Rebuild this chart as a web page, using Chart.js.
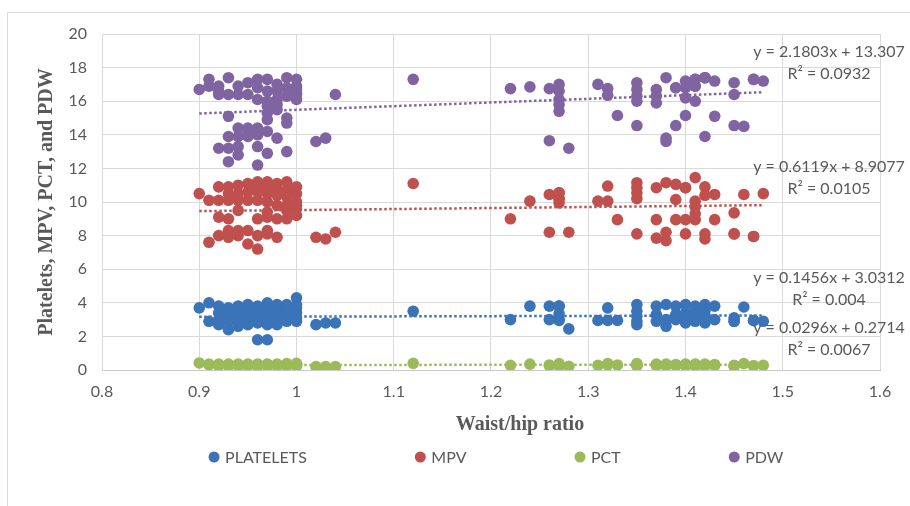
<!DOCTYPE html>
<html lang="en">
<head>
  <meta charset="UTF-8">
  <title>Platelets, MPV, PCT and PDW vs waist/hip ratio</title>
  <script src="https://cdn.jsdelivr.net/npm/chart.js"></script>
  <style>
    body { margin: 0; background: #fff; }
    canvas { display: block; }
  </style>
</head>
<body>
  <canvas id="chart" width="910" height="506"></canvas>

  <script>
    // one entry per subject, grouped by waist/hip ratio
    const waistHip = [
      0.90,
      0.91, 0.91,
      0.92, 0.92, 0.92, 0.92,
      0.93, 0.93, 0.93, 0.93, 0.93, 0.93,
      0.94, 0.94, 0.94, 0.94, 0.94, 0.94,
      0.95, 0.95, 0.95, 0.95, 0.95,
      0.96, 0.96, 0.96, 0.96, 0.96, 0.96, 0.96,
      0.97, 0.97, 0.97, 0.97, 0.97, 0.97, 0.97, 0.97,
      0.98, 0.98, 0.98, 0.98, 0.98, 0.98,
      0.99, 0.99, 0.99, 0.99, 0.99, 0.99,
      1.00, 1.00, 1.00, 1.00, 1.00, 1.00,
      1.02, 1.03, 1.04, 1.12, 1.22, 1.24,
      1.26, 1.26,
      1.27, 1.27, 1.27, 1.27, 1.27,
      1.28, 1.31,
      1.32, 1.32,
      1.33,
      1.35, 1.35, 1.35, 1.35, 1.35,
      1.37, 1.37, 1.37,
      1.38, 1.38, 1.38,
      1.39, 1.39, 1.39,
      1.40, 1.40, 1.40, 1.40,
      1.41, 1.41, 1.41, 1.41, 1.41,
      1.42, 1.42, 1.42, 1.42,
      1.43, 1.43,
      1.45, 1.45, 1.45,
      1.46,
      1.47, 1.47,
      1.48
    ];

    const platelets = [
      3.7,
      4.0, 2.9,
      3.8, 2.7, 3.4, 3.0,
      3.7, 2.4, 3.3, 2.9, 3.6, 3.1,
      3.8, 2.6, 3.2, 3.5, 2.9, 3.0,
      3.9, 2.7, 3.3, 3.1, 3.6,
      3.8, 1.8, 3.2, 2.8, 3.5, 3.0, 3.7,
      4.0, 1.8, 3.3, 2.7, 3.6, 3.0, 3.8, 3.2,
      3.9, 2.7, 3.4, 3.1, 3.6, 2.9,
      3.9, 3.0, 3.5, 3.2, 3.7, 2.9,
      4.3, 3.7, 3.1, 3.4, 3.9, 2.9,
      2.7, 2.8, 2.8, 3.5, 3.0, 3.8,
      3.8, 3.0,
      3.8, 3.35, 2.95, 3.8, 3.0,
      2.45, 2.95,
      3.7, 2.95,
      2.95,
      3.9, 3.5, 3.2, 2.9, 2.7,
      3.8, 3.3, 2.9,
      3.9, 3.0, 2.6,
      3.8, 3.3, 3.0,
      3.9, 3.4, 3.0, 2.8,
      3.8, 3.3, 2.9, 3.6, 3.1,
      3.9, 3.2, 2.8, 3.5,
      3.8, 3.0,
      3.1, 2.9, 2.9,
      3.75,
      2.95, 2.95,
      2.9
    ];

    const mpv = [
      10.5,
      10.1, 7.6,
      10.9, 10.1, 9.1, 8.0,
      10.9, 10.1, 9.0, 8.3, 7.9, 10.5,
      11.0, 10.5, 8.3, 8.0, 10.1, 9.5,
      11.1, 10.1, 8.3, 7.5, 10.6,
      11.2, 10.1, 9.0, 8.0, 7.2, 10.6, 10.9,
      11.2, 10.5, 10.0, 9.4, 8.3, 10.8, 9.1, 8.1,
      11.1, 10.4, 9.8, 9.0, 7.9, 10.8,
      11.2, 10.3, 9.8, 9.0, 10.7, 9.5,
      10.5, 10.0, 9.6, 9.2, 10.9, 9.8,
      7.9, 7.8, 8.2, 11.1, 9.0, 10.05,
      10.45, 8.2,
      10.55, 10.2, 9.95, 10.55, 10.2,
      8.2, 10.05,
      10.95, 10.05,
      8.95,
      11.15, 10.85, 10.55, 10.2, 8.1,
      10.85, 8.95, 7.85,
      11.15, 8.2, 7.7,
      11.05, 10.15, 8.95,
      10.85, 8.95, 8.1, 10.85,
      11.45, 10.05, 9.7, 9.3, 8.95,
      10.9, 10.4, 8.1, 7.8,
      10.45, 8.95,
      9.35, 8.1, 8.1,
      10.45,
      7.95, 7.95,
      10.5
    ];

    const pct = [
      0.42,
      0.3, 0.35,
      0.35, 0.28, 0.3, 0.25,
      0.35, 0.3, 0.28, 0.25, 0.3, 0.32,
      0.33, 0.3, 0.27, 0.35, 0.3, 0.25,
      0.35, 0.3, 0.28, 0.25, 0.32,
      0.36, 0.3, 0.27, 0.25, 0.3, 0.33, 0.28,
      0.35, 0.3, 0.28, 0.25, 0.32, 0.3, 0.27, 0.33,
      0.35, 0.3, 0.27, 0.32, 0.28, 0.25,
      0.38, 0.3, 0.27, 0.32, 0.28, 0.25,
      0.4, 0.3, 0.27, 0.35, 0.28, 0.25,
      0.2, 0.2, 0.2, 0.4, 0.28, 0.35,
      0.3, 0.25,
      0.38, 0.3, 0.25, 0.32, 0.28,
      0.22, 0.28,
      0.38, 0.3,
      0.3,
      0.38, 0.3, 0.25, 0.32, 0.28,
      0.35, 0.3, 0.27,
      0.35, 0.28, 0.25,
      0.33, 0.3, 0.27,
      0.35, 0.3, 0.27, 0.25,
      0.35, 0.3, 0.27, 0.32, 0.25,
      0.35, 0.3, 0.27, 0.25,
      0.33, 0.27,
      0.28, 0.25, 0.22,
      0.38,
      0.25, 0.25,
      0.28
    ];

    const pdw = [
      16.7,
      17.3, 16.9,
      16.9, 16.4, 13.2, 16.6,
      17.4, 16.4, 15.1, 13.9, 13.2, 12.4,
      16.9, 16.4, 14.4, 13.9, 13.3, 12.8,
      17.1, 16.4, 14.1, 13.9, 14.4,
      17.3, 16.8, 16.1, 14.4, 13.3, 12.2, 14.0,
      17.3, 16.6, 16.0, 15.3, 14.9, 14.2, 12.9, 15.7,
      17.0, 16.1, 15.5, 13.8, 16.6, 15.8,
      17.4, 16.8, 15.0, 14.7, 13.0, 16.3,
      17.3, 16.7, 16.4, 16.1, 16.9, 16.5,
      13.6, 13.8, 16.4, 17.3, 16.75, 16.85,
      16.75, 13.65,
      17.0, 16.6, 16.1, 15.8, 15.4,
      13.2, 17.0,
      16.75, 16.35,
      15.15,
      17.1, 16.7, 16.3, 16.0, 14.55,
      16.7, 16.3, 15.9,
      17.4, 13.8, 13.6,
      16.8, 14.55, 16.8,
      17.2, 16.8, 16.2, 15.15,
      17.3, 16.9, 16.0, 17.3, 16.9,
      17.4, 13.9, 17.4, 17.4,
      17.2, 15.1,
      17.1, 16.4, 14.55,
      14.5,
      17.3, 17.3,
      17.2
    ];

    const seriesNames = ['PLATELETS', 'MPV', 'PCT', 'PDW'];
    const seriesValues = [platelets, mpv, pct, pdw];
    const seriesColors = ['#3a73b8', '#c0504d', '#9bbb59', '#8064a2'];

    // linear trendlines as reported on the chart: y = slope * x + intercept
    const trendSlope = [0.1456, 0.6119, 0.0296, 2.1803];
    const trendIntercept = [3.0312, 8.9077, 0.2714, 13.307];
    const trendR2 = [0.004, 0.0105, 0.0067, 0.0932];

    const xMin = Math.min(...waistHip);
    const xMax = Math.max(...waistHip);

    const scatterSets = seriesNames.map((name, i) => ({
      type: 'scatter',
      label: name,
      data: waistHip.map((x, k) => ({ x: x, y: seriesValues[i][k] })),
      backgroundColor: seriesColors[i],
      borderColor: seriesColors[i],
      borderWidth: 0,
      pointRadius: 5.8,
      pointHoverRadius: 5.8,
      order: 5 - i
    }));

    const trendSets = seriesNames.map((name, i) => ({
      type: 'line',
      label: name + ' trend',
      data: [xMin, xMax].map(x => ({ x: x, y: trendSlope[i] * x + trendIntercept[i] })),
      borderColor: seriesColors[i],
      borderWidth: 2.5,
      borderDash: [2.5, 2.5],
      pointRadius: 0,
      fill: false,
      order: 1
    }));

    const textGrey = '#595959';

    // frame, trendline equations, x title and legend
    const decorations = {
      id: 'decorations',
      beforeDraw(chart) {
        const ctx = chart.ctx;
        ctx.save();
        ctx.fillStyle = '#fff';
        ctx.fillRect(0, 0, chart.width, chart.height);
        ctx.strokeStyle = '#d9d9d9';
        ctx.lineWidth = 1;
        ctx.beginPath();
        ctx.moveTo(7.5, chart.height);
        ctx.lineTo(7.5, 12.5);
        ctx.lineTo(chart.width, 12.5);
        ctx.stroke();
        ctx.restore();
      },
      afterDraw(chart) {
        const { ctx, chartArea, scales } = chart;
        ctx.save();

        // equations (anchored in y-axis units)
        const eqAt = [5.5, 12.1, 2.53, 18.96];
        ctx.font = '16px Lato';
        ctx.fillStyle = textGrey;
        ctx.textAlign = 'center';
        ctx.textBaseline = 'middle';
        seriesNames.forEach((name, i) => {
          const y = scales.y.getPixelForValue(eqAt[i]);
          ctx.fillText('y = ' + trendSlope[i] + 'x + ' + trendIntercept[i], 829, y);
          ctx.fillText('R\u00b2 = ' + trendR2[i], 829, y + 22);
        });

        // x axis title
        ctx.font = 'bold 20px "Liberation Serif"';
        ctx.fillText('Waist/hip ratio', (chartArea.left + chartArea.right) / 2 + 29, 425);

        // legend
        ctx.font = '16px Lato';
        ctx.textAlign = 'left';
        const gap = 108;
        const widths = seriesNames.map(n => 16.5 + ctx.measureText(n).width);
        const total = widths.reduce((a, b) => a + b, 0) + gap * (seriesNames.length - 1);
        let x = (chartArea.left + chartArea.right) / 2 + 5 - total / 2;
        const ly = 457;
        seriesNames.forEach((name, i) => {
          ctx.fillStyle = seriesColors[i];
          ctx.beginPath();
          ctx.arc(x + 5.5, ly, 5.5, 0, Math.PI * 2);
          ctx.fill();
          ctx.fillStyle = textGrey;
          ctx.fillText(name, x + 16.5, ly + 1);
          x += widths[i] + gap;
        });

        ctx.restore();
      }
    };

    new Chart(document.getElementById('chart').getContext('2d'), {
      data: { datasets: [...scatterSets, ...trendSets] },
      options: {
        responsive: false,
        animation: false,
        events: [],
        layout: { padding: { top: 34, left: 24, right: 30, bottom: 95 } },
        plugins: {
          legend: { display: false },
          tooltip: { enabled: false }
        },
        scales: {
          x: {
            type: 'linear',
            min: 0.8,
            max: 1.6,
            afterFit(scale) { scale.height = 41; },
            ticks: {
              stepSize: 0.1,
              color: textGrey,
              font: { family: 'Lato', size: 16 },
              padding: 12,
              callback: v => String(Math.round(v * 10) / 10)
            },
            grid: { color: '#d9d9d9', lineWidth: 1, drawTicks: false },
            border: { color: '#c8c8c8' }
          },
          y: {
            min: 0,
            max: 20,
            afterFit(scale) { scale.width = 78; },
            ticks: {
              stepSize: 2,
              color: textGrey,
              font: { family: 'Lato', size: 16 },
              padding: 15
            },
            grid: { color: '#d9d9d9', lineWidth: 1, drawTicks: false },
            border: { color: '#d9d9d9' },
            title: {
              display: true,
              text: 'Platelets, MPV, PCT, and PDW',
              color: textGrey,
              font: { family: 'Liberation Serif', size: 20, weight: 'bold' },
              padding: { top: 11, bottom: 0 }
            }
          }
        }
      },
      plugins: [decorations]
    });
  </script>
</body>
</html>
